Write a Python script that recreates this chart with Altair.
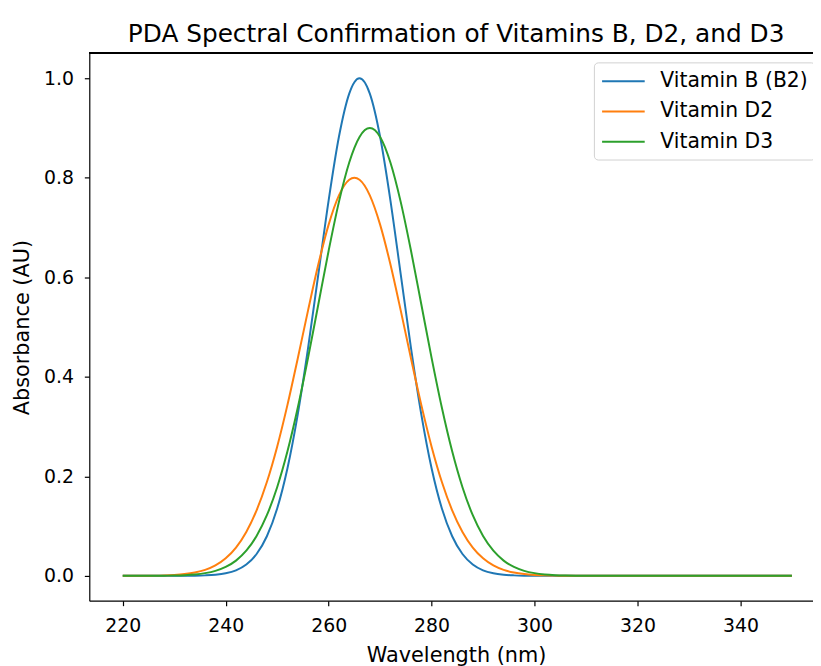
import altair as alt
import pandas as pd

# Wavelength sample points (nm)
wavelength = [220, 224, 226, 228, 230, 232, 234, 236, 238, 240, 242, 244, 246, 248,
              250, 252, 254, 256, 258, 260, 262, 264, 265, 266, 268, 270, 272, 274,
              276, 278, 280, 282, 284, 286, 288, 290, 292, 294, 296, 298, 300, 302,
              304, 306, 308, 310, 320, 330, 340, 350]

# Absorbance (AU)
vit_b2 = [0.0, 0.0, 0.0, 0.0, 0.0, 0.0001, 0.0003, 0.0009, 0.0022, 0.0051, 0.0111,
          0.0228, 0.0439, 0.0796, 0.1353, 0.2163, 0.3247, 0.4578, 0.6065, 0.7548,
          0.8825, 0.9692, 0.9922, 1.0, 0.9692, 0.8825, 0.7548, 0.6065, 0.4578, 0.3247,
          0.2163, 0.1353, 0.0796, 0.0439, 0.0228, 0.0111, 0.0051, 0.0022, 0.0009,
          0.0003, 0.0001, 0.0, 0.0, 0.0, 0.0, 0.0, 0.0, 0.0, 0.0, 0.0]

vit_d2 = [0.0, 0.0002, 0.0004, 0.0009, 0.0018, 0.0035, 0.0066, 0.0119, 0.0209, 0.0352,
          0.0568, 0.0882, 0.1316, 0.1886, 0.2597, 0.3436, 0.4369, 0.5336, 0.6262,
          0.7060, 0.7648, 0.7960, 0.8000, 0.7960, 0.7648, 0.7060, 0.6262, 0.5336,
          0.4369, 0.3436, 0.2597, 0.1886, 0.1316, 0.0882, 0.0568, 0.0352, 0.0209,
          0.0119, 0.0066, 0.0035, 0.0018, 0.0009, 0.0004, 0.0002, 0.0001, 0.0, 0.0,
          0.0, 0.0, 0.0]

vit_d3 = [0.0, 0.0, 0.0001, 0.0003, 0.0007, 0.0014, 0.0028, 0.0054, 0.0100, 0.0179,
          0.0306, 0.0505, 0.0800, 0.1218, 0.1781, 0.2502, 0.3378, 0.4381, 0.5459,
          0.6535, 0.7517, 0.8308, 0.8604, 0.8822, 0.9000, 0.8822, 0.8308, 0.7517,
          0.6535, 0.5459, 0.4381, 0.3378, 0.2502, 0.1781, 0.1218, 0.0800, 0.0505,
          0.0306, 0.0179, 0.0100, 0.0054, 0.0028, 0.0014, 0.0007, 0.0003, 0.0001,
          0.0, 0.0, 0.0, 0.0]

series_names = ["Vitamin B (B2)", "Vitamin D2", "Vitamin D3"]
series_colors = ["#1f77b4", "#ff7f0e", "#2ca02c"]
x_ticks = [220, 240, 260, 280, 300, 320, 340]
y_ticks = [0.0, 0.2, 0.4, 0.6, 0.8, 1.0]

rows = []
for name, vals in zip(series_names, [vit_b2, vit_d2, vit_d3]):
    for order, (w, v) in enumerate(zip(wavelength, vals)):
        rows.append({"Wavelength": w, "Absorbance": v, "Series": name, "order": order})
df = pd.DataFrame(rows)

FONT = "DejaVu Sans"
W, H = 730, 552

lines = alt.Chart(df).mark_line(strokeWidth=2, interpolate="monotone").encode(
    x=alt.X("Wavelength:Q",
            scale=alt.Scale(domain=[213.5, 354.1], nice=False, zero=False),
            axis=alt.Axis(values=x_ticks, format="d", title="Wavelength (nm)",
                          grid=False, tickSize=5, labelPadding=11,
                          titleX=370, titleY=44, titleBaseline="top")),
    y=alt.Y("Absorbance:Q",
            scale=alt.Scale(domain=[-0.05, 1.05], nice=False, zero=False),
            axis=alt.Axis(values=y_ticks, format=".1f", title="Absorbance (AU)",
                          grid=False, tickSize=5, labelPadding=11,
                          titleX=-57, titleY=H / 2, titleBaseline="bottom")),
    color=alt.Color("Series:N",
                    scale=alt.Scale(domain=series_names, range=series_colors),
                    legend=alt.Legend(title=None, orient="none", legendX=509, legendY=9,
                                      symbolType="M-1,0L3,0", symbolSize=462,
                                      symbolStrokeWidth=2, labelFontSize=20.5,
                                      labelOffset=36, rowPadding=7.5, padding=7,
                                      strokeColor="#d0d0d0", fillColor="white",
                                      cornerRadius=4, labelFont=FONT,
                                      labelColor="#000000")),
    order="order:Q",
)

top_border = alt.Chart(df).mark_rule(color="black", strokeWidth=1).encode(
    x=alt.value(0), x2=alt.value(W), y=alt.value(0)
)

chart = alt.layer(top_border, lines).properties(
    width=W, height=H,
    title=alt.TitleParams("PDA Spectral Confirmation of Vitamins B, D2, and D3",
                          fontSize=25, font=FONT, fontWeight="normal", color="black",
                          offset=6, dx=5, anchor="middle"),
    padding={"left": 82, "top": 43, "right": 0, "bottom": 63},
    autosize=alt.AutoSizeParams(type="none"),
).configure_view(stroke=None).configure_axis(
    labelFont=FONT, titleFont=FONT, labelFontSize=19, titleFontSize=21,
    labelColor="black", titleColor="black", tickColor="black", domainColor="black",
    titleFontWeight="normal", domainWidth=1.2, tickWidth=1.2,
)

chart.save("out.html", embed_options={"renderer": "svg", "actions": False})
